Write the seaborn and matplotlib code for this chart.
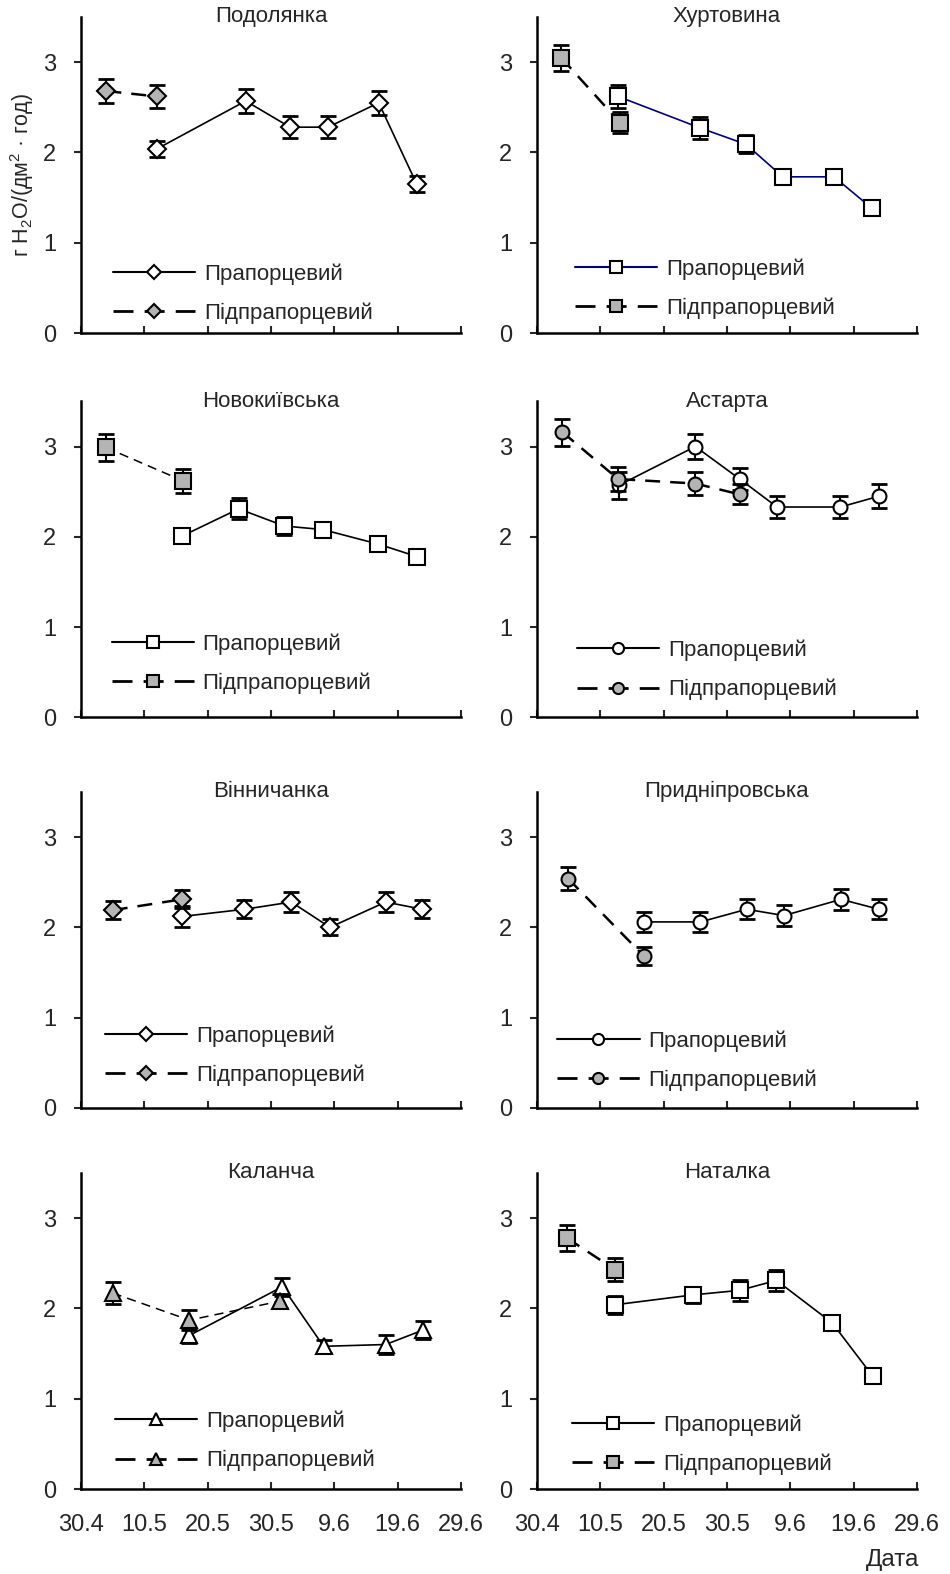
import numpy as np
import matplotlib
matplotlib.use("Agg")
import matplotlib.pyplot as plt
from matplotlib.lines import Line2D
import seaborn as sns

# days since 30.4 for every panel, values in g H2O/(dm2 * h)
titles = ["Подолянка", "Хуртовина", "Новокиївська", "Астарта",
          "Вінничанка", "Придніпровська", "Каланча", "Наталка"]
markers = ["D", "s", "s", "o", "D", "o", "^", "s"]

flag_x = [
    [12, 26, 33, 39, 47, 53],
    [12.8, 25.8, 33, 38.8, 46.9, 52.9],
    [16, 24.9, 32.1, 38.2, 46.9, 53.1],
    [12.9, 25, 32, 37.9, 47.9, 54],
    [15.9, 25.8, 33.2, 39.3, 48.1, 53.9],
    [16.9, 25.8, 33.1, 39, 48, 54],
    [17.1, 31.8, 38.3, 48.1, 54],
    [12.3, 24.7, 32, 37.8, 46.6, 53],
]
flag_y = [
    [2.04, 2.57, 2.28, 2.28, 2.55, 1.65],
    [2.62, 2.27, 2.09, 1.73, 1.73, 1.38],
    [2.01, 2.31, 2.12, 2.08, 1.92, 1.78],
    [2.57, 3.0, 2.64, 2.33, 2.33, 2.45],
    [2.12, 2.2, 2.28, 2.0, 2.28, 2.2],
    [2.06, 2.06, 2.2, 2.13, 2.31, 2.2],
    [1.7, 2.24, 1.58, 1.6, 1.76],
    [2.04, 2.15, 2.2, 2.31, 1.84, 1.25],
]
flag_err = [
    [0.09, 0.13, 0.12, 0.12, 0.13, 0.085],
    [0.125, 0.12, 0.1, 0.05, 0.05, 0.03],
    [0.06, 0.115, 0.1, 0.07, 0.07, 0.06],
    [0.15, 0.14, 0.125, 0.12, 0.12, 0.13],
    [0.12, 0.1, 0.11, 0.09, 0.11, 0.1],
    [0.11, 0.11, 0.11, 0.12, 0.12, 0.11],
    [0.08, 0.1, 0.07, 0.1, 0.1],
    [0.1, 0.09, 0.115, 0.12, 0.07, 0.05],
]

sub_x = [
    [4, 12],
    [3.8, 13.1],
    [3.9, 16.1],
    [4, 12.8, 25, 32],
    [5, 15.9],
    [4.9, 16.9],
    [5, 17.1, 31.4],
    [4.7, 12.3],
]
sub_y = [
    [2.68, 2.62],
    [3.05, 2.33],
    [2.99, 2.62],
    [3.16, 2.64, 2.59, 2.47],
    [2.19, 2.31],
    [2.54, 1.68],
    [2.17, 1.87, 2.08],
    [2.78, 2.43],
]
sub_err = [
    [0.13, 0.125],
    [0.145, 0.12],
    [0.15, 0.13],
    [0.15, 0.13, 0.125, 0.11],
    [0.1, 0.1],
    [0.13, 0.1],
    [0.12, 0.11, 0.08],
    [0.14, 0.125],
]

tick_days = [0, 10, 20, 30, 40, 50, 60]
tick_labels = ["30.4", "10.5", "20.5", "30.5", "9.6", "19.6", "29.6"]

flag_label = "Прапорцевий"
sub_label = "Підпрапорцевий"

sns.set_theme(style="ticks")
plt.rcParams["font.family"] = ["Liberation Sans", "DejaVu Sans"]
plt.rcParams["mathtext.default"] = "regular"

gray = "#b4b4b4"
dash_lw = [1.8, 1.8, 1.1, 1.8, 1.8, 1.8, 1.1, 1.8]
msize = {"D": 9.5, "s": 11, "o": 10, "^": 11}
flag_color = ["black", "#000080"] + ["black"] * 6
# legend anchor (axes fraction) per panel
leg_x = [0.06, 0.077, 0.057, 0.082, 0.04, 0.03, 0.066, 0.069]
leg_y = [0.125, 0.141, 0.17, 0.15, 0.166, 0.15, 0.152, 0.14]

fig = plt.figure(figsize=(9.5, 15.74), dpi=100)
row_bottoms = [0.7884, 0.5442, 0.2961, 0.054]
col_lefts = [0.0853, 0.5653]
axes = []
for r in range(4):
    for c in range(2):
        axes.append(fig.add_axes([col_lefts[c], row_bottoms[r], 0.40, 0.2008]))

for i, ax in enumerate(axes):
    m = markers[i]
    ms = msize[m]
    # error bars first so markers sit on top
    ax.errorbar(flag_x[i], flag_y[i], yerr=flag_err[i], fmt="none", ecolor="black",
                elinewidth=1.5, capsize=6, capthick=2, zorder=2)
    ax.errorbar(sub_x[i], sub_y[i], yerr=sub_err[i], fmt="none", ecolor="black",
                elinewidth=1.5, capsize=6, capthick=2, zorder=4)
    sns.lineplot(x=flag_x[i], y=flag_y[i], ax=ax, color=flag_color[i], linewidth=1.2,
                 marker=m, markersize=ms, markerfacecolor="white",
                 markeredgecolor="black", markeredgewidth=1.5, zorder=3)
    sns.lineplot(x=sub_x[i], y=sub_y[i], ax=ax, color="black", linewidth=dash_lw[i],
                 linestyle=(0, (6, 4)), marker=m, markersize=ms, markerfacecolor=gray,
                 markeredgecolor="black", markeredgewidth=1.5, zorder=5)

    ax.set_xlim(0, 60)
    ax.set_ylim(0, 3.5)
    ax.set_xticks(tick_days)
    ax.set_yticks([0, 1, 2, 3])
    if i >= 6:
        ax.set_xticklabels(tick_labels)
    else:
        ax.set_xticklabels([])
    ax.tick_params(axis="x", direction="in", length=5, width=1.5, pad=18, labelsize=17)
    ax.tick_params(axis="y", direction="out", length=5, width=1.5, pad=13, labelsize=17)
    for s in ["top", "right"]:
        ax.spines[s].set_visible(False)
    for s in ["left", "bottom"]:
        ax.spines[s].set_linewidth(1.8)
        ax.spines[s].set_color("black")
    ax.set_xlabel("")
    ax.set_ylabel("")
    ax.text(0.5, 1.0, titles[i], transform=ax.transAxes, ha="center", va="center",
            fontsize=16)

    handles = [
        Line2D([], [], color=flag_color[i], lw=1.5, marker=m, markersize=ms * 0.8,
               markerfacecolor="white", markeredgecolor="black", markeredgewidth=1.5),
        Line2D([], [], color="black", lw=2, linestyle=(0, (7.2, 4)), marker=m,
               markersize=ms * 0.8, markerfacecolor=gray, markeredgecolor="black",
               markeredgewidth=1.5),
    ]
    ax.legend(handles, [flag_label, sub_label], frameon=False, loc="center left",
              bbox_to_anchor=(leg_x[i], leg_y[i]), handlelength=3.7, handletextpad=0.4,
              labelspacing=0.8, fontsize=16, borderaxespad=0)

axes[0].set_ylabel("г H$_2$O/(дм$^2$ · год)", fontsize=15.5, labelpad=5)
fig.text(0.968, 0.009, "Дата", ha="right", va="center", fontsize=17.5)

fig.savefig("out.png", dpi=100)
